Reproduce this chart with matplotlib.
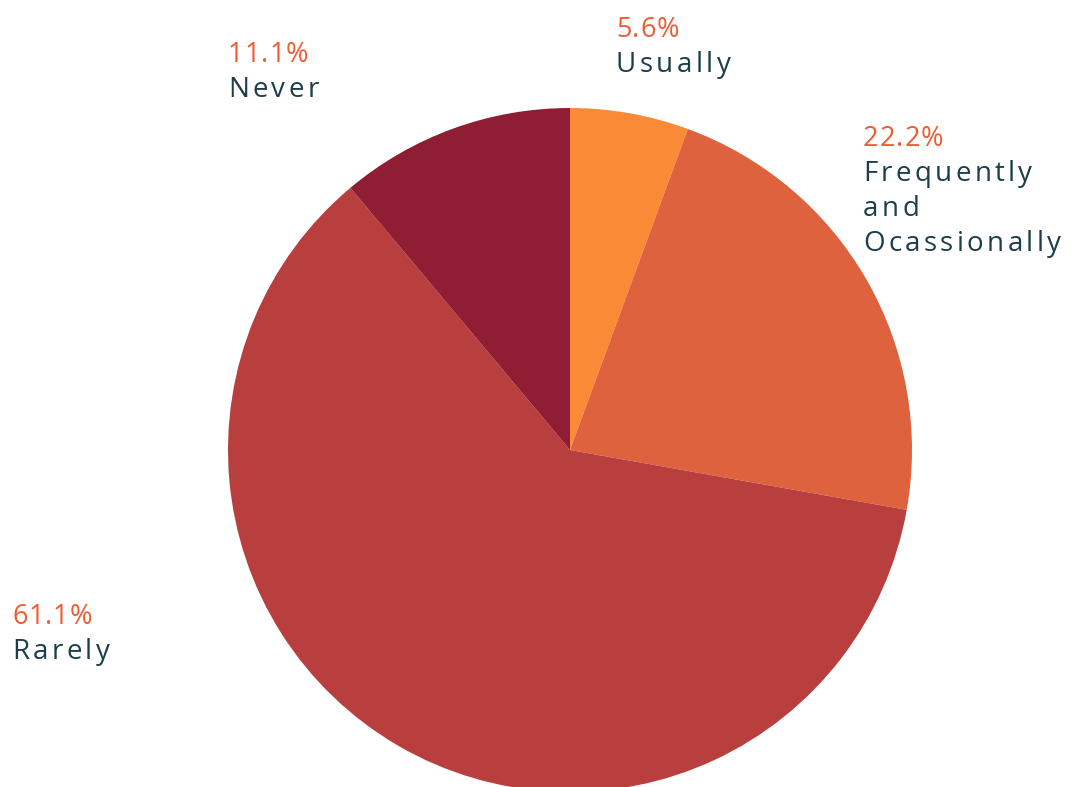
import matplotlib.pyplot as plt
from matplotlib.font_manager import FontProperties

# survey answers, clockwise from 12 o'clock
categories = ["Usually", "Frequently\nand\nOcassionally", "Rarely", "Never"]
shares = [5.6, 22.2, 61.1, 11.1]
colors = ["#fb8a36", "#de623d", "#b83f3d", "#8f1d34"]

W, H = 1072, 787
fig = plt.figure(figsize=(W / 100, H / 100), dpi=100)
ax = fig.add_axes([0, 0, 1, 1])

# work in pixel units so the pie and labels share one frame
ax.pie(shares, colors=colors, startangle=90, counterclock=False,
       center=(570, H - 450), radius=342, frame=False,
       wedgeprops=dict(linewidth=0))
ax.set_xlim(0, W)
ax.set_ylim(0, H)
ax.set_aspect("equal")
ax.axis("off")

renderer = fig.canvas.get_renderer()


def spaced_text(x, y, s, prop, color, tracking):
    # matplotlib has no letter-spacing, so place glyphs one by one
    wl, _, _ = renderer.get_text_width_height_descent("l", prop, ismath=False)
    for i, ch in enumerate(s):
        off = 0
        if i > 0:
            w, _, _ = renderer.get_text_width_height_descent(s[:i] + "l", prop, ismath=False)
            off = w - wl
        ax.text(x + off + i * tracking, y, ch, color=color, fontproperties=prop,
                va="baseline", ha="left")


# label anchors (left edge, baseline of the percentage line)
label_pos = [(616, 37), (863, 146), (12, 624), (228, 62)]
pct_color = "#f15b30"
name_color = "#1c3e4a"
pct_font = FontProperties(family="Open Sans", size=19.5)
name_font = FontProperties(family="Open Sans", size=20)

for name, val, (x, y) in zip(categories, shares, label_pos):
    spaced_text(x, H - y, f"{val:.1f}%", pct_font, pct_color, 1.0)
    for i, line in enumerate(name.split("\n")):
        spaced_text(x, H - (y + 35 * (i + 1)), line, name_font, name_color, 3.4)

fig.savefig("out.png", dpi=100)
